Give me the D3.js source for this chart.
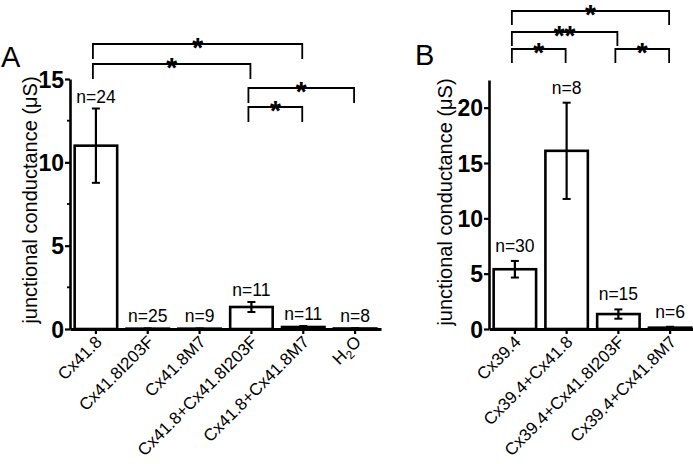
<!DOCTYPE html>
<html>
<head>
<meta charset="utf-8">
<script src="https://cdn.jsdelivr.net/npm/d3@7"></script>
<style>
  html, body { margin: 0; padding: 0; background: #fff; }
  svg { display: block; font-family: "Liberation Sans", Arial, sans-serif; }
</style>
</head>
<body>
<svg id="chart" width="693" height="464"></svg>
<script>
// ---------- data ----------
const catsA = ["Cx41.8", "Cx41.8I203F", "Cx41.8M7", "Cx41.8+Cx41.8I203F", "Cx41.8+Cx41.8M7", "H2O"];
const meanA = [11.0, 0.02, 0.02, 1.32, 0.12, 0.03];
const errA  = [2.23, 0.01, 0.01, 0.30, 0.06, 0.01];
const nA    = [24, 25, 9, 11, 11, 8];
const ticksA = [0, 5, 10, 15];
const minorA = [2.5, 7.5, 12.5];
const sigA = [["Cx41.8", "Cx41.8+Cx41.8M7", "*"],
              ["Cx41.8", "Cx41.8+Cx41.8I203F", "*"],
              ["Cx41.8+Cx41.8I203F", "H2O", "*"],
              ["Cx41.8+Cx41.8I203F", "Cx41.8+Cx41.8M7", "*"]];

const catsB = ["Cx39.4", "Cx39.4+Cx41.8", "Cx39.4+Cx41.8I203F", "Cx39.4+Cx41.8M7"];
const meanB = [5.4, 16.1, 1.35, 0.12];
const errB  = [0.75, 4.35, 0.42, 0.08];
const nB    = [30, 8, 15, 6];
const ticksB = [0, 5, 10, 15, 20];
const sigB = [["Cx39.4", "Cx39.4+Cx41.8M7", "*"],
              ["Cx39.4", "Cx39.4+Cx41.8I203F", "**"],
              ["Cx39.4", "Cx39.4+Cx41.8", "*"],
              ["Cx39.4+Cx41.8I203F", "Cx39.4+Cx41.8M7", "*"]];

const yLabel = "junctional conductance (\u03BCS)";

// ---------- drawing ----------
const svg = d3.select("#chart");

function panel(cfg) {
  const g = svg.append("g");
  const x = d3.scaleBand().domain(cfg.cats).range([cfg.x0, cfg.x1])
    .paddingInner(0.18).paddingOuter(0.09);
  const y = d3.scaleLinear().domain([0, cfg.ymax]).range([cfg.yBase, cfg.yTop]);

  // bars
  g.selectAll("rect.bar").data(cfg.cats).join("rect")
    .attr("x", d => x(d))
    .attr("width", x.bandwidth())
    .attr("y", (d, i) => y(cfg.mean[i]))
    .attr("height", (d, i) => y(0) - y(cfg.mean[i]))
    .attr("fill", "#fff").attr("stroke", "#000").attr("stroke-width", 2.6);

  // error bars
  const cx = d => x(d) + x.bandwidth() / 2;
  cfg.cats.forEach((c, i) => {
    const hi = y(cfg.mean[i] + cfg.err[i]), lo = y(Math.max(0, cfg.mean[i] - cfg.err[i]));
    g.append("line").attr("x1", cx(c)).attr("x2", cx(c)).attr("y1", hi).attr("y2", lo)
      .attr("stroke", "#000").attr("stroke-width", 2.2);
    [hi, lo].forEach(v => g.append("line").attr("x1", cx(c) - 4).attr("x2", cx(c) + 4)
      .attr("y1", v).attr("y2", v).attr("stroke", "#000").attr("stroke-width", 2));
    g.append("text").attr("x", cx(c)).attr("y", Math.min(hi - cfg.nOff, y(0) - 7))
      .attr("text-anchor", "middle").attr("font-size", 17.5).text("n=" + cfg.n[i]);
  });

  // y axis
  const ya = g.append("g").attr("transform", `translate(${cfg.x0},0)`)
    .call(d3.axisLeft(y).tickValues(cfg.ticks).tickSize(5).tickSizeOuter(0).tickPadding(1)
      .tickFormat(d3.format("d")));
  ya.select(".domain").attr("stroke-width", 2.6);
  ya.selectAll(".tick line").attr("stroke-width", 2.2);
  ya.selectAll(".tick text").attr("font-size", 23).attr("font-family", "Liberation Sans, Arial, sans-serif")
    .attr("font-weight", "bold").attr("fill", "#000").attr("dy", "0.36em");
  (cfg.minor || []).forEach(v => g.append("line").attr("x1", cfg.x0 - 3).attr("x2", cfg.x0)
    .attr("y1", y(v)).attr("y2", y(v)).attr("stroke", "#000").attr("stroke-width", 1.8));

  // x axis
  const xa = g.append("g").attr("transform", `translate(0,${cfg.yBase})`)
    .call(d3.axisBottom(x).tickSize(5).tickSizeOuter(0).tickFormat(""));
  xa.select(".domain").attr("stroke-width", 2.8);
  xa.selectAll(".tick line").attr("stroke-width", 2.2);
  cfg.cats.forEach(c => {
    const t = g.append("text")
      .attr("transform", `translate(${cx(c) + 7},${cfg.yBase + 14}) rotate(-45)`)
      .attr("text-anchor", "end").attr("font-size", 17);
    if (c === "H2O") {
      t.append("tspan").text("H");
      t.append("tspan").attr("font-size", 12).attr("dy", 4).text("2");
      t.append("tspan").attr("dy", -4).text("O");
    } else t.text(c);
  });

  // y label
  g.append("text")
    .attr("transform", `translate(${cfg.labelX},${cfg.labelY}) rotate(-90)`)
    .attr("text-anchor", "middle").attr("font-size", 20).text(yLabel);

  // panel letter
  g.append("text").attr("x", cfg.letterX).attr("y", cfg.letterY)
    .attr("font-size", 29).text(cfg.letter);

  // significance brackets
  cfg.sig.forEach((s, i) => {
    const a = cx(s[0]) - 3, b = cx(s[1]) - 1, yy = cfg.sigY[i], leg = cfg.legLen;
    g.append("path").attr("d", `M${a},${yy + leg}V${yy}H${b}V${yy + leg}`)
      .attr("fill", "none").attr("stroke", "#000").attr("stroke-width", 1.8);
    g.append("text").attr("x", (a + b) / 2).attr("y", yy + 13)
      .attr("text-anchor", "middle").attr("font-size", 28).attr("font-weight", "bold")
      .text(s[2]);
  });
}

panel({
  cats: catsA, mean: meanA, err: errA, n: nA, ticks: ticksA, minor: minorA, sig: sigA,
  x0: 70, x1: 381, yBase: 329, yTop: 79, ymax: 15, nOff: 6,
  labelX: 36.5, labelY: 200, letter: "A", letterX: 1, letterY: 67,
  sigY: [44, 64, 88, 107], legLen: 15
});
panel({
  cats: catsB, mean: meanB, err: errB, n: nB, ticks: ticksB, sig: sigB,
  x0: 489, x1: 696, yBase: 329, yTop: 80, ymax: 22.5, nOff: 9,
  labelX: 451.5, labelY: 202, letter: "B", letterX: 415, letterY: 65,
  sigY: [11, 32, 49, 49], legLen: 14
});
</script>
</body>
</html>
